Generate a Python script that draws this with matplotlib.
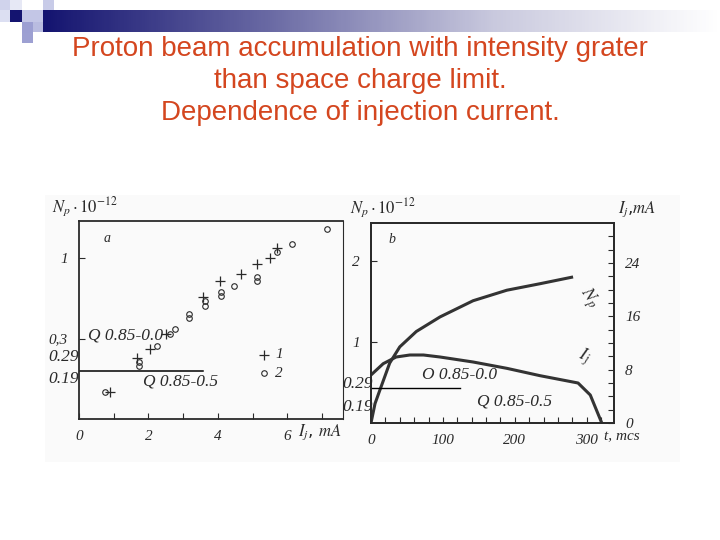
import numpy as np
import matplotlib.pyplot as plt
from matplotlib.patches import Rectangle
from matplotlib.colors import LinearSegmentedColormap

plt.rcParams['mathtext.fontset'] = 'stix'

# panel a: Np vs injection current (two data sets)
cross_I = [0.88, 1.67, 2.04, 2.5, 3.56, 4.06, 4.66, 5.12, 5.5, 5.71]
cross_N = [0.17, 0.38, 0.435, 0.53, 0.76, 0.86, 0.90, 0.965, 1.0, 1.06]
circ_I = [0.75, 1.73, 1.73, 2.25, 2.63, 2.75, 3.17, 3.17, 3.63, 3.63,
          4.08, 4.08, 4.46, 5.12, 5.12, 5.71, 6.12, 7.13]
circ_N = [0.165, 0.355, 0.33, 0.455, 0.53, 0.56, 0.655, 0.625, 0.73, 0.705,
          0.79, 0.765, 0.825, 0.88, 0.855, 1.035, 1.09, 1.18]

# panel b: Np and Ij vs time
t_np = [0, 5.6, 12.5, 26, 40, 63, 96, 142, 189, 235, 279]
np_vals = [0.0, 0.24, 0.41, 0.74, 0.94, 1.13, 1.31, 1.51, 1.64, 1.72, 1.80]
t_ij = [0, 17, 35, 54, 73, 96, 142, 189, 235, 288, 305, 321]
ij_vals = [7.2, 8.9, 9.9, 10.2, 10.2, 9.9, 9.15, 8.2, 7.1, 6.0, 4.2, 0.0]

ink = '#2a2a2a'
serif_it = dict(family='Liberation Serif', style='italic', color=ink)

fig = plt.figure(figsize=(7.2, 5.4), dpi=100)

# slide background: header bar, squares, scan area
bg = fig.add_axes([0, 0, 1, 1], zorder=-1)
bg.set_xlim(0, 720)
bg.set_ylim(540, 0)
bg.axis('off')
cmap = LinearSegmentedColormap.from_list('hdr', ['#141470', '#6a6aa4', '#c9c9de', '#ffffff'])
bg.imshow(np.linspace(0, 1, 300).reshape(1, -1), cmap=cmap, aspect='auto',
          extent=[43, 720, 32, 10])
for (x0, y0, w, h, c) in [(0, 0, 10, 10, '#d0d3ec'), (10, 10, 12, 12, '#141470'),
                          (22, 10, 21, 12, '#c3c6e6'), (43, 0, 11, 10, '#c8cbe8'),
                          (22, 22, 11, 11, '#9c9fd2'), (33, 22, 10, 10, '#b9bce0'),
                          (22, 33, 11, 10, '#9da0d2'), (0, 10, 10, 12, '#dcdff2'),
                          (10, 0, 12, 10, '#e6e8f5')]:
    bg.add_patch(Rectangle((x0, y0), w, h, color=c, lw=0))
bg.add_patch(Rectangle((45, 195), 635, 267, color='#fafafa', lw=0))

fig.text(0.5, 1 - 81 / 540, 'Proton beam accumulation with intensity grater\n'
         'than space charge limit.\nDependence of injection current.',
         ha='center', va='center', fontsize=20, color='#d4461f',
         family='Liberation Sans', linespacing=1.32)

# ---- panel a ----
ax1 = fig.add_axes([79 / 720, 1 - 419 / 540, 264 / 720, 198 / 540])
ax1.set_facecolor('none')
ax1.set_xlim(0, 7.6)
ax1.set_ylim(0, 1.23)
ax1.plot(cross_I, cross_N, '+', color=ink, ms=7, mew=0.9)
ax1.plot(circ_I, circ_N, 'o', mfc='none', mec=ink, ms=4, mew=0.8)
ax1.plot([5.33], [0.40], '+', color=ink, ms=7, mew=0.9)
ax1.plot([5.33], [0.285], 'o', mfc='none', mec=ink, ms=4, mew=0.8)
ax1.text(5.65, 0.40, '1', fontsize=11, va='center', **serif_it)
ax1.text(5.65, 0.285, '2', fontsize=11, va='center', **serif_it)
ax1.text(0.7, 1.10, 'a', fontsize=10, **serif_it)
ax1.plot([0, 3.57], [0.30, 0.30], color='black', lw=1.1)
ax1.set_xticks([0, 1, 2, 3, 4, 5, 6, 7])
ax1.set_xticklabels(['0', '', '2', '', '4', '', '6', ''])
ax1.set_yticks([0.5, 1.0])
ax1.set_yticklabels(['0,3', '1'])
ax1.tick_params(direction='in', length=4, color=ink, labelcolor=ink, pad=8)
for lb in ax1.get_xticklabels() + ax1.get_yticklabels():
    lb.set_family('Liberation Serif')
    lb.set_style('italic')
    lb.set_fontsize(11)
for s in ax1.spines.values():
    s.set_color(ink)
    s.set_linewidth(1.3)
ax1.spines['right'].set_linewidth(0.8)

fig.text(52 / 720, 1 - 212 / 540, r'$N_p\cdot10^{-12}$', fontsize=12, color=ink)
fig.text(298 / 720, 1 - 436 / 540, r'$I_j$, $mA$', fontsize=12, color=ink)
fig.text(48 / 720, 1 - 357 / 540, '0.29', fontsize=12.5, va='center', **serif_it)
fig.text(48 / 720, 1 - 379 / 540, '0.19', fontsize=12.5, va='center', **serif_it)
fig.text(88 / 720, 1 - 335 / 540, 'Q 0.85-0.0', fontsize=12.5, va='center', **serif_it)
fig.text(143 / 720, 1 - 382 / 540, 'Q 0.85-0.5', fontsize=12.5, va='center', **serif_it)

# ---- panel b ----
ax2 = fig.add_axes([371 / 720, 1 - 423 / 540, 243 / 720, 200 / 540])
ax2.set_facecolor('none')
ax2.set_xlim(0, 338)
ax2.set_ylim(0, 2.47)
ax2.plot(t_np, np_vals, color='#333333', lw=2.2)
ax2.plot([0, 124], [0.43, 0.43], color='black', lw=1.0)
ax2.set_xticks(np.arange(0, 338, 20))
ax2.set_xticklabels(['0', '', '', '', '', '100', '', '', '', '', '200', '', '', '', '', '300', ''])
ax2.set_yticks([1, 2])
ax2.set_yticklabels(['1', '2'])
ax2.text(25, 2.22, 'b', fontsize=10, **serif_it)
ax2.text(282, 1.45, r'$N_p$', fontsize=13, color=ink, rotation=-55)
ax2.text(284, 0.76, r'$I_j$', fontsize=13, color=ink, rotation=-20)

ax3 = ax2.twinx()
ax3.set_ylim(0, 30)
ax3.plot(t_ij, ij_vals, color='#333333', lw=2.2)
ax3.set_yticks(np.arange(0, 30, 2))
ax3.set_yticklabels(['0', '', '', '', '8', '', '', '', '16', '', '', '', '24', '', ''])

for a in (ax2, ax3):
    a.tick_params(direction='in', length=4, color=ink, labelcolor=ink, pad=8)
    for lb in a.get_xticklabels() + a.get_yticklabels():
        lb.set_family('Liberation Serif')
        lb.set_style('italic')
        lb.set_fontsize(11)
    for s in a.spines.values():
        s.set_color(ink)
        s.set_linewidth(1.3)

fig.text(350 / 720, 1 - 213 / 540, r'$N_p\cdot10^{-12}$', fontsize=12, color=ink)
fig.text(618 / 720, 1 - 213 / 540, r'$I_j$,$mA$', fontsize=12, color=ink)
fig.text(604 / 720, 1 - 437 / 540, 't, mcs', fontsize=11, va='center', **serif_it)
fig.text(342 / 720, 1 - 384 / 540, '0.29', fontsize=12.5, va='center', **serif_it)
fig.text(342 / 720, 1 - 407 / 540, '0.19', fontsize=12.5, va='center', **serif_it)
fig.text(422 / 720, 1 - 375 / 540, 'O 0.85-0.0', fontsize=12.5, va='center', **serif_it)
fig.text(477 / 720, 1 - 402 / 540, 'Q 0.85-0.5', fontsize=12.5, va='center', **serif_it)

fig.savefig('out.png', dpi=100)
